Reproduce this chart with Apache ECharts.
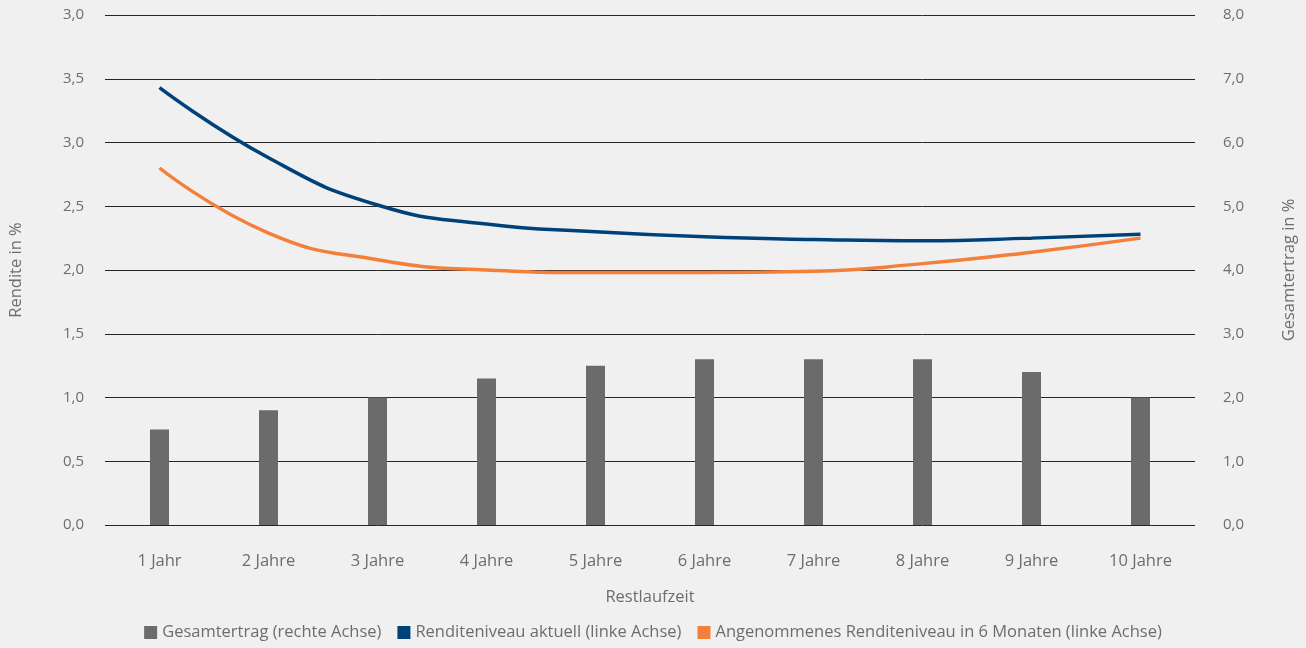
<!DOCTYPE html>
<html>
<head>
<meta charset="utf-8">
<script src="https://cdn.jsdelivr.net/npm/echarts@6/dist/echarts.min.js"></script>
<style>
  html, body { margin: 0; padding: 0; background: #f0f0f0; }
  #chart { width: 1306px; height: 648px; }
</style>
</head>
<body>
<div id="chart"></div>
<script>
// Kategorien und Werte
const categories = ['1 Jahr', '2 Jahre', '3 Jahre', '4 Jahre', '5 Jahre', '6 Jahre', '7 Jahre', '8 Jahre', '9 Jahre', '10 Jahre']
const gesamtertrag = [1.5, 1.8, 2.0, 2.3, 2.5, 2.6, 2.6, 2.6, 2.4, 2.0]
const renditeAktuell = [3.43, 2.88, 2.51, 2.36, 2.30, 2.26, 2.24, 2.23, 2.25, 2.28]
const renditeIn6Monaten = [2.80, 2.29, 2.08, 2.00, 1.98, 1.98, 1.99, 2.05, 2.14, 2.25]
// Beschriftung der linken Achse, so wie sie im Original steht
const leftTickLabels = ['0,0', '0,5', '1,0', '1,5', '2,0', '2,5', '3,0', '3,5', '3,0']
const rightTickLabels = ['0,0', '1,0', '2,0', '3,0', '4,0', '5,0', '6,0', '7,0', '8,0']

const colors = ['#6a6b6a', '#00417a', '#f47f3a']
const fontFamily = '"Open Sans", "Noto Sans", sans-serif'
const textColor = '#6d6d6d'

const chart = echarts.init(document.getElementById('chart'))

const option = {
  backgroundColor: '#f0f0f0',
  animation: false,
  textStyle: { fontFamily: fontFamily },
  grid: { left: 103, right: 108, top: 15, bottom: 123, containLabel: false },
  legend: {
    bottom: 2,
    left: 'center',
    itemWidth: 13,
    itemHeight: 13,
    itemGap: 16,
    icon: 'rect',
    textStyle: { color: textColor, fontSize: 16.5, fontFamily: fontFamily },
    data: [
      'Gesamtertrag (rechte Achse)',
      'Renditeniveau aktuell (linke Achse)',
      'Angenommenes Renditeniveau in 6 Monaten (linke Achse)'
    ]
  },
  xAxis: {
    type: 'category',
    data: categories,
    name: 'Restlaufzeit',
    nameLocation: 'center',
    nameGap: 64,
    nameTextStyle: { color: textColor, fontSize: 16.5 },
    axisLine: { show: false },
    axisTick: { show: false },
    axisLabel: { color: textColor, fontSize: 16.5, margin: 28 }
  },
  yAxis: [
    {
      type: 'value',
      min: 0,
      max: 4,
      interval: 0.5,
      name: 'Rendite in %',
      nameLocation: 'center',
      nameGap: 80,
      nameTextStyle: { color: textColor, fontSize: 16.5 },
      axisLine: { show: false },
      axisTick: { show: false },
      splitLine: { lineStyle: { color: '#262626', width: 1 } },
      axisLabel: {
        color: textColor,
        fontSize: 15,
        margin: 21,
        formatter: (v) => leftTickLabels[Math.round(v / 0.5)]
      }
    },
    {
      type: 'value',
      min: 0,
      max: 8,
      interval: 1,
      name: 'Gesamtertrag in %',
      nameLocation: 'center',
      nameGap: 86,
      nameRotate: 90,
      nameTextStyle: { color: textColor, fontSize: 16.5 },
      axisLine: { show: false },
      axisTick: { show: false },
      splitLine: { show: false },
      axisLabel: {
        color: textColor,
        fontSize: 15,
        margin: 28,
        formatter: (v) => rightTickLabels[Math.round(v)]
      }
    }
  ],
  series: [
    {
      name: 'Gesamtertrag (rechte Achse)',
      type: 'bar',
      yAxisIndex: 1,
      data: gesamtertrag,
      barWidth: 19,
      itemStyle: { color: colors[0] }
    },
    {
      name: 'Renditeniveau aktuell (linke Achse)',
      type: 'line',
      yAxisIndex: 0,
      data: renditeAktuell,
      smooth: 0.5,
      showSymbol: false,
      lineStyle: { width: 3.5, color: colors[1] },
      itemStyle: { color: colors[1] }
    },
    {
      name: 'Angenommenes Renditeniveau in 6 Monaten (linke Achse)',
      type: 'line',
      yAxisIndex: 0,
      data: renditeIn6Monaten,
      smooth: 0.5,
      showSymbol: false,
      lineStyle: { width: 3.5, color: colors[2] },
      itemStyle: { color: colors[2] }
    }
  ]
}

chart.setOption(option)
</script>
</body>
</html>
